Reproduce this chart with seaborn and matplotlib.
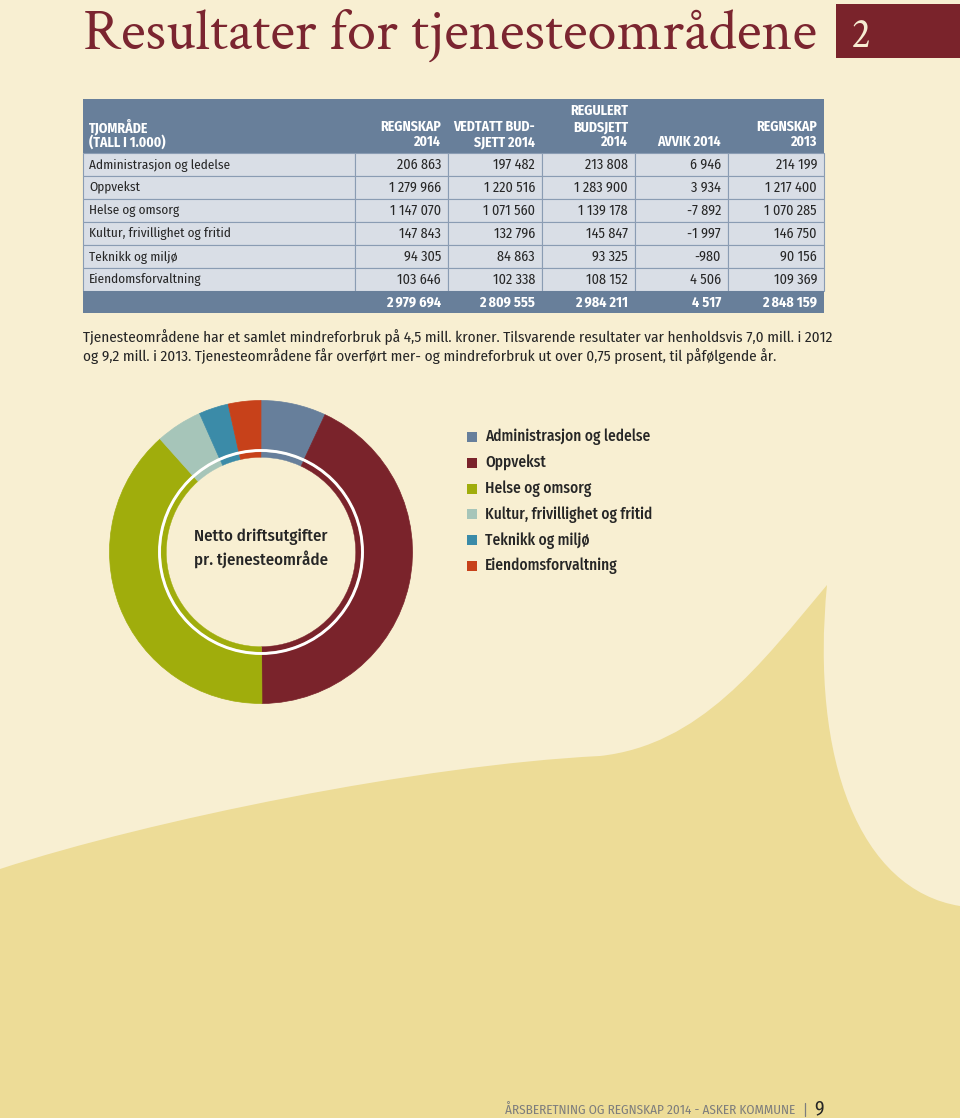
import matplotlib
matplotlib.use('Agg')
import matplotlib.pyplot as plt
import seaborn as sns
from matplotlib import font_manager
from matplotlib.patches import Rectangle, Circle, PathPatch
from matplotlib.path import Path

# Data
areas = ['Administrasjon og ledelse', 'Oppvekst', 'Helse og omsorg',
         'Kultur, frivillighet og fritid', 'Teknikk og miljø', 'Eiendomsforvaltning']
regnskap_2014 = [206863, 1279966, 1147070, 147843, 94305, 103646]
vedtatt_2014 = [197482, 1220516, 1071560, 132796, 84863, 102338]
regulert_2014 = [213808, 1283900, 1139178, 145847, 93325, 108152]
avvik_2014 = [6946, 3934, -7892, -1997, -980, 4506]
regnskap_2013 = [214199, 1217400, 1070285, 146750, 90156, 109369]
totals = [2979694, 2809555, 2984211, 4517, 2848159]
area_colors = ['#677f9b', '#7a232b', '#a0ad0c', '#a6c5b9', '#3b8ba8', '#c7411a']

CREAM = '#f8efd2'
SAND = '#eddc97'
MAROON = '#7a232b'
SLATE = '#687f9a'
ROW = '#d9dee6'
LINE = '#8a9cb3'
INK = '#262626'

sns.set_theme(style='white')
names = {f.name for f in font_manager.fontManager.ttflist}


def pick(cands):
    for c in cands:
        if c in names:
            return c
    return 'DejaVu Sans'


SANS = pick(['Fira Sans Condensed', 'Roboto Condensed', 'PT Sans Narrow', 'Archivo Narrow',
             'Liberation Sans Narrow', 'Liberation Sans'])
SERIF = pick(['Crimson Text', 'Crimson Pro', 'EB Garamond', 'Liberation Serif'])
plt.rcParams['font.family'] = [SANS, 'DejaVu Sans']


def fmt(v):
    return f'{v:,}'.replace(',', ' ')


fig = plt.figure(figsize=(9.6, 11.18), dpi=100)
fig.patch.set_facecolor(CREAM)
renderer = fig.canvas.get_renderer()


def fit(group, ref, target):
    # scale a group of texts so that the reference text gets the wanted pixel width
    w = ref.get_window_extent(renderer).width
    k = target / w
    for t in group:
        t.set_fontsize(t.get_fontsize() * k)


page = fig.add_axes([0, 0, 1, 1])
page.set_xlim(0, 960)
page.set_ylim(1118, 0)
page.axis('off')

# background shape
verts = [(0, 869), (150, 820), (420, 765), (600, 756),
         (700, 745), (760, 665), (827, 585),
         (810, 760), (860, 890), (960, 906),
         (960, 1118), (0, 1118), (0, 869)]
codes = [Path.MOVETO, Path.CURVE4, Path.CURVE4, Path.CURVE4,
         Path.CURVE4, Path.CURVE4, Path.CURVE4,
         Path.CURVE4, Path.CURVE4, Path.CURVE4,
         Path.LINETO, Path.LINETO, Path.CLOSEPOLY]
page.add_patch(PathPatch(Path(verts, codes), fc=SAND, ec='none', zorder=0))

# title
title = page.text(83, 49, 'Resultater for tjenesteområdene', family=SERIF,
                  size=41.5, color='#7b2530', va='baseline')
fit([title], title, 734)
page.add_patch(Rectangle((836, 4), 130, 54, fc=MAROON, ec='none'))
page.text(851, 47, '2', family=SERIF, size=title.get_fontsize() * 0.72, color='#f6ecd2',
          va='baseline')

# table
edges = [83, 355, 448, 542, 635, 728, 824]
head_top, head_bot = 99, 153
row_h = 23
page.add_patch(Rectangle((edges[0], head_top), edges[-1] - edges[0], head_bot - head_top,
                         fc=SLATE, ec='none'))
headers = [['TJOMRÅDE', '(TALL I 1.000)'],
           ['REGNSKAP', '2014'],
           ['VEDTATT BUD-', 'SJETT 2014'],
           ['REGULERT', 'BUDSJETT', '2014'],
           ['AVVIK 2014'],
           ['REGNSKAP', '2013']]
line_y = [111, 127, 142]
head_txt = []
for c, lines in enumerate(headers):
    ys = line_y[-len(lines):]
    for txt, y in zip(lines, ys):
        if c == 0:
            t = page.text(edges[0] + 6, y, txt, color='white', weight='bold', size=9.5,
                          ha='left', va='center')
        else:
            t = page.text(edges[c + 1] - 7, y, txt, color='white', weight='bold', size=9.5,
                          ha='right', va='center')
        head_txt.append(t)
fit(head_txt, head_txt[2], 61)

cols = [regnskap_2014, vedtatt_2014, regulert_2014, avvik_2014, regnskap_2013]
label_txt, num_txt = [], []
for r, name in enumerate(areas):
    top = head_bot + r * row_h
    for c in range(6):
        page.add_patch(Rectangle((edges[c], top), edges[c + 1] - edges[c], row_h,
                                 fc=ROW, ec=LINE, lw=0.8))
    yc = top + row_h / 2 + 0.5
    label_txt.append(page.text(edges[0] + 6, yc, name, color=INK, size=10.5,
                               ha='left', va='center'))
    for c, col in enumerate(cols):
        num_txt.append(page.text(edges[c + 2] - 7, yc, fmt(col[r]), color=INK, size=10.5,
                                 ha='right', va='center'))

tot_top = head_bot + len(areas) * row_h
page.add_patch(Rectangle((edges[0], tot_top), edges[-1] - edges[0], 22, fc=SLATE, ec='none'))
for c, v in enumerate(totals):
    num_txt.append(page.text(edges[c + 2] - 7, tot_top + 11.5, fmt(v), color='white',
                             weight='bold', size=10.5, ha='right', va='center'))
fit(label_txt, label_txt[0], 141)
fit(num_txt, num_txt[5], 52)

# paragraph
p1 = page.text(83, 337, 'Tjenesteområdene har et samlet mindreforbruk på 4,5 mill. kroner. '
               'Tilsvarende resultater var henholdsvis 7,0 mill. i 2012',
               size=11.2, color=INK, va='center')
p2 = page.text(83, 356, 'og 9,2 mill. i 2013. Tjenesteområdene får overført mer- og '
               'mindreforbruk ut over 0,75 prosent, til påfølgende år.',
               size=11.2, color=INK, va='center')
fit([p1, p2], p1, 749)

# donut
cx, cy, R = 261, 552, 151.5
donut = fig.add_axes([(cx - R) / 960, 1 - (cy + R) / 1118, 2 * R / 960, 2 * R / 1118])
donut.set_facecolor('none')
outer, _ = donut.pie(regnskap_2014, colors=area_colors, startangle=90, counterclock=False,
                     radius=1.0, wedgeprops=dict(width=0.32, linewidth=0.5))
inner, _ = donut.pie(regnskap_2014, colors=area_colors, startangle=90, counterclock=False,
                     radius=0.66, wedgeprops=dict(width=0.035, linewidth=0.3))
for w in outer + inner:
    w.set_edgecolor(w.get_facecolor())
donut.add_patch(Circle((0, 0), 0.67, fill=False, ec='white', lw=2.0))
donut.set_xlim(-1, 1)
donut.set_ylim(-1, 1)
donut.set_aspect('equal')
donut.axis('off')

c1 = page.text(cx, 537, 'Netto driftsutgifter', size=12.5, color=INK, weight='medium',
               ha='center', va='center')
c2 = page.text(cx, 559, 'pr. tjenesteområde', size=12.5, color=INK, weight='medium',
               ha='center', va='center')
fit([c1, c2], c1, 133)

# legend
leg_txt = []
for i, (name, col) in enumerate(zip(areas, area_colors)):
    y = 437 + i * 25.8
    page.add_patch(Rectangle((467, y - 5), 10, 10, fc=col, ec='none'))
    leg_txt.append(page.text(485, y, name, size=12.5, color=INK, weight='medium',
                             ha='left', va='center'))
fit(leg_txt, leg_txt[0], 165)

# footer
foot = page.text(795, 1110, 'ÅRSBERETNING OG REGNSKAP 2014 - ASKER KOMMUNE', size=9.3,
                 color='#7d7d7d', ha='right', va='center')
fit([foot], foot, 290)
page.plot([805, 805], [1103, 1116], color='#7d7d7d', lw=0.9)
page.text(814, 1109, '9', size=14, color=INK, ha='left', va='center')

fig.savefig('out.png', dpi=100, facecolor=CREAM)
